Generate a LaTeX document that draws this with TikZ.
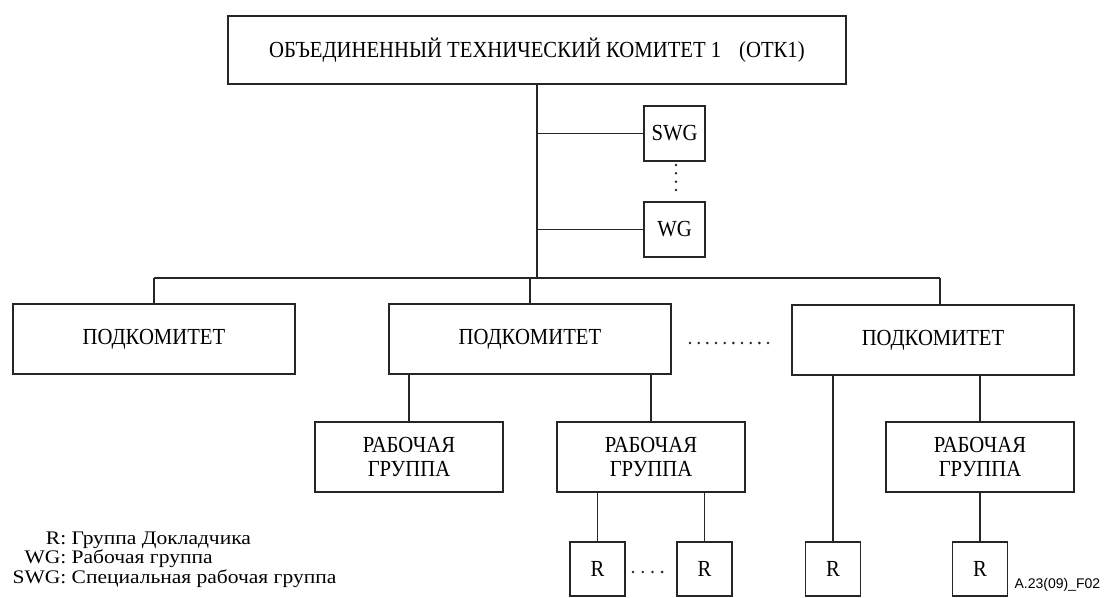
\documentclass[tikz,border=0pt]{standalone}
\usepackage{fontspec}
\setmainfont{Liberation Serif}
\newfontfamily\boxfont[FakeStretch=0.9]{Liberation Serif}
\newfontfamily\legendfont[FakeStretch=1.12]{Liberation Serif}
\newfontfamily\figfont{Liberation Sans}
\begin{document}
\begin{tikzpicture}[x=1pt,y=-1pt,line width=1.1pt,draw=black!85]
      \tikzstyle{box}=[draw,inner sep=0pt,align=center,font=\boxfont\fontsize{23}{24}\selectfont]
      \tikzstyle{pk}=[box,minimum width=282pt,minimum height=70pt]
      \tikzstyle{grp}=[box,minimum width=188pt,minimum height=70pt]
      \tikzstyle{rep}=[box,minimum width=55pt,minimum height=54pt]
      \tikzstyle{sub}=[box,minimum width=61pt,minimum height=55pt]
      \tikzstyle{dot}=[fill=black!85,circle,inner sep=0pt,minimum size=2.8pt]
      \useasboundingbox (0,0) rectangle (1108,597);

      \node[box,minimum width=618pt,minimum height=68pt] (jtc) at (537,50) {ОБЪЕДИНЕННЫЙ ТЕХНИЧЕСКИЙ КОМИТЕТ 1\hspace{18pt}(ОТК1)};
      \node[sub] (swg) at (674.5,133.5) {SWG};
      \node[sub] (wg) at (674.5,229.5) {WG};

      \node[pk] (pk1) at (154,339) {ПОДКОМИТЕТ};
      \node[pk] (pk2) at (530,339) {ПОДКОМИТЕТ};
      \node[pk] (pk3) at (933,340) {ПОДКОМИТЕТ};

      \node[grp] (wg1) at (409,457) {РАБОЧАЯ\\ГРУППА};
      \node[grp] (wg2) at (651,457) {РАБОЧАЯ\\ГРУППА};
      \node[grp] (wg3) at (980,457) {РАБОЧАЯ\\ГРУППА};

      \node[rep] (r1) at (597.5,569) {R};
      \node[rep] (r2) at (704.5,569) {R};
      \node[rep] (r3) at (833,569) {R};
      \node[rep] (r4) at (980,569) {R};

      \coordinate (busL) at (154,278);
      \coordinate (busR) at (940,278);

      \draw (jtc.south) -- (jtc.south |- busL);
      \draw (swg.west) -- (swg.west -| jtc.south);
      \draw (wg.west) -- (wg.west -| jtc.south);
      \draw (busL) -- (busR);
      \draw (busL) -- (pk1.north);
      \draw (pk2.north) -- (pk2.north |- busL);
      \draw (busR) -- (busR |- pk3.north);

      \draw (wg1.north) -- (wg1.north |- pk2.south);
      \draw (wg2.north) -- (wg2.north |- pk2.south);
      \draw (r3.north) -- (r3.north |- pk3.south);
      \draw (wg3.north) -- (wg3.north |- pk3.south);
      \draw (r1.north) -- (r1.north |- wg2.south);
      \draw (r2.north) -- (r2.north |- wg2.south);
      \draw (r4.north) -- (r4.north |- wg3.south);

      \foreach \y in {165,173.3,181.7,190} \node[dot] at (676,\y) {};
      \foreach \i in {0,...,9} \node[dot] at (690+8.67*\i,343) {};
      \foreach \i in {0,...,3} \node[dot] at (633+9.7*\i,572) {};

      \node[anchor=north west,inner sep=0pt,font=\legendfont\fontsize{19.2}{19.5}\selectfont] (legend) at (12,530) {%
        \begin{tabular}{@{}r@{ }l@{}}
          R: & Группа Докладчика\\
          WG: & Рабочая группа\\
          SWG: & Специальная рабочая группа
        \end{tabular}};
      \node[anchor=base west,inner sep=0pt,font=\figfont\fontsize{14}{16}\selectfont] (figid) at (1014,588) {A.23(09)\_F02};
\end{tikzpicture}
\end{document}
